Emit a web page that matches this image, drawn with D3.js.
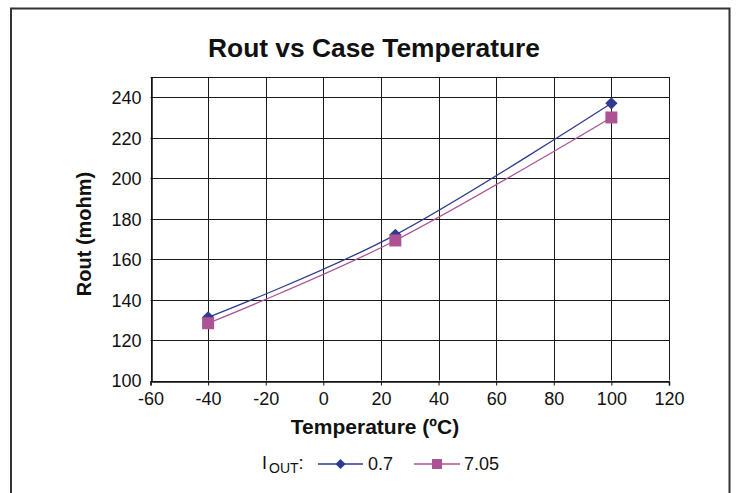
<!DOCTYPE html>
<html><head><meta charset="utf-8">
<script src="https://cdn.jsdelivr.net/npm/d3@7"></script>
<style>html,body{margin:0;padding:0;background:#fff;}svg{display:block;}</style>
</head><body>
<svg id="c" width="737" height="493"></svg>
<script>
const temperatures = [-40, 25, 100];
const rout07 = [131.2, 172, 237];
const rout705 = [128.3, 169.2, 230];
const seriesNames = ["0.7", "7.05"];
const xTicks = [-60, -40, -20, 0, 20, 40, 60, 80, 100, 120];
const yTicks = [100, 120, 140, 160, 180, 200, 220, 240];

const svg = d3.select("#c");
const font = "Arial, 'Liberation Sans', Helvetica, sans-serif";
const colors = ["#2f3c8e", "#ad5394"];
const fmt = d => String(d);

// outer frame
svg.append("rect").attr("x", 11).attr("y", 8.5).attr("width", 718.5).attr("height", 500)
  .attr("fill", "none").attr("stroke", "#333").attr("stroke-width", 2);

const x = d3.scaleLinear().domain([-60, 120]).range([150.5, 669]);
const y = d3.scaleLinear().domain([100, 250]).range([380.5, 77]);

// gridlines
const g = svg.append("g");
g.selectAll(".vg").data(xTicks).join("line")
  .attr("x1", d => Math.round(x(d)) + 0.5).attr("x2", d => Math.round(x(d)) + 0.5)
  .attr("y1", y(250)).attr("y2", y(100)).attr("stroke", "#1a1a1a").attr("stroke-width", 1);
g.selectAll(".hg").data(yTicks.concat([250])).join("line")
  .attr("y1", d => Math.round(y(d)) + 0.5).attr("y2", d => Math.round(y(d)) + 0.5)
  .attr("x1", x(-60)).attr("x2", x(120)).attr("stroke", "#1a1a1a").attr("stroke-width", 1);

// axes
const xAxis = d3.axisBottom(x).tickValues(xTicks).tickSize(4).tickPadding(7).tickFormat(fmt);
const yAxis = d3.axisLeft(y).tickValues(yTicks).tickSize(0).tickPadding(10).tickFormat(fmt);
const gx = svg.append("g").attr("transform", `translate(0,${Math.round(y(100)) + 0.5})`).call(xAxis);
const gy = svg.append("g").attr("transform", `translate(${Math.round(x(-60)) + 0.5},0)`).call(yAxis);
[gx, gy].forEach(a => {
  a.select(".domain").attr("stroke", "#111").attr("stroke-width", 1.5);
  a.selectAll(".tick line").attr("stroke", "#111");
  a.selectAll("text").attr("font-family", font).attr("font-size", 18).attr("fill", "#111");
});
gy.selectAll("text").attr("dy", "0.36em");

// titles
svg.append("text").attr("x", 374).attr("y", 57).attr("text-anchor", "middle")
  .attr("font-family", font).attr("font-weight", "bold").attr("font-size", 25)
  .attr("textLength", 332).attr("lengthAdjust", "spacingAndGlyphs")
  .attr("fill", "#111").text("Rout vs Case Temperature");
svg.append("text").attr("x", 375).attr("y", 434).attr("text-anchor", "middle")
  .attr("font-family", font).attr("font-weight", "bold").attr("font-size", 21)
  .attr("fill", "#111").text("Temperature (ºC)");
svg.append("text").attr("transform", "translate(91,234) rotate(-90)").attr("text-anchor", "middle")
  .attr("font-family", font).attr("font-weight", "bold").attr("font-size", 20)
  .attr("fill", "#111").text("Rout (mohm)");

// series
const series = [rout07, rout705];
const line = d3.line().x(d => x(d[0])).y(d => y(d[1])).curve(d3.curveCatmullRom.alpha(0));
series.forEach((vals, i) => {
  const pts = temperatures.map((t, j) => [t, vals[j]]);
  svg.append("path").attr("d", line(pts)).attr("fill", "none")
    .attr("stroke", colors[i]).attr("stroke-width", 1.3);
});
function marker(sel, i, cx, cy, s) {
  if (i === 0) {
    sel.append("rect").attr("x", -s * 0.36).attr("y", -s * 0.36).attr("width", s * 0.72).attr("height", s * 0.72)
      .attr("transform", `translate(${cx},${cy}) rotate(45)`).attr("fill", colors[0]);
  } else {
    sel.append("rect").attr("x", cx - s / 2).attr("y", cy - s / 2).attr("width", s).attr("height", s)
      .attr("fill", colors[1]);
  }
}
series.forEach((vals, i) => {
  temperatures.forEach((t, j) => marker(svg, i, x(t), y(vals[j]), 12));
});

// legend
const lg = svg.append("g").attr("font-family", font).attr("fill", "#111");
const lt = lg.append("text").attr("x", 262).attr("y", 469).attr("font-size", 18);
lt.append("tspan").text("I");
lt.append("tspan").attr("font-size", 14).attr("dy", 4).attr("dx", 2).text("OUT");
lt.append("tspan").attr("dy", -4).text(":");
const legItems = [{x1: 318, x2: 363, tx: 368}, {x1: 414, x2: 460, tx: 464}];
legItems.forEach((it, i) => {
  lg.append("line").attr("x1", it.x1).attr("x2", it.x2).attr("y1", 464).attr("y2", 464)
    .attr("stroke", colors[i]).attr("stroke-width", 1.3);
  marker(lg, i, (it.x1 + it.x2) / 2, 464, 10);
  lg.append("text").attr("x", it.tx).attr("y", 470).attr("font-size", 18).text(seriesNames[i]);
});
</script>
</body></html>
